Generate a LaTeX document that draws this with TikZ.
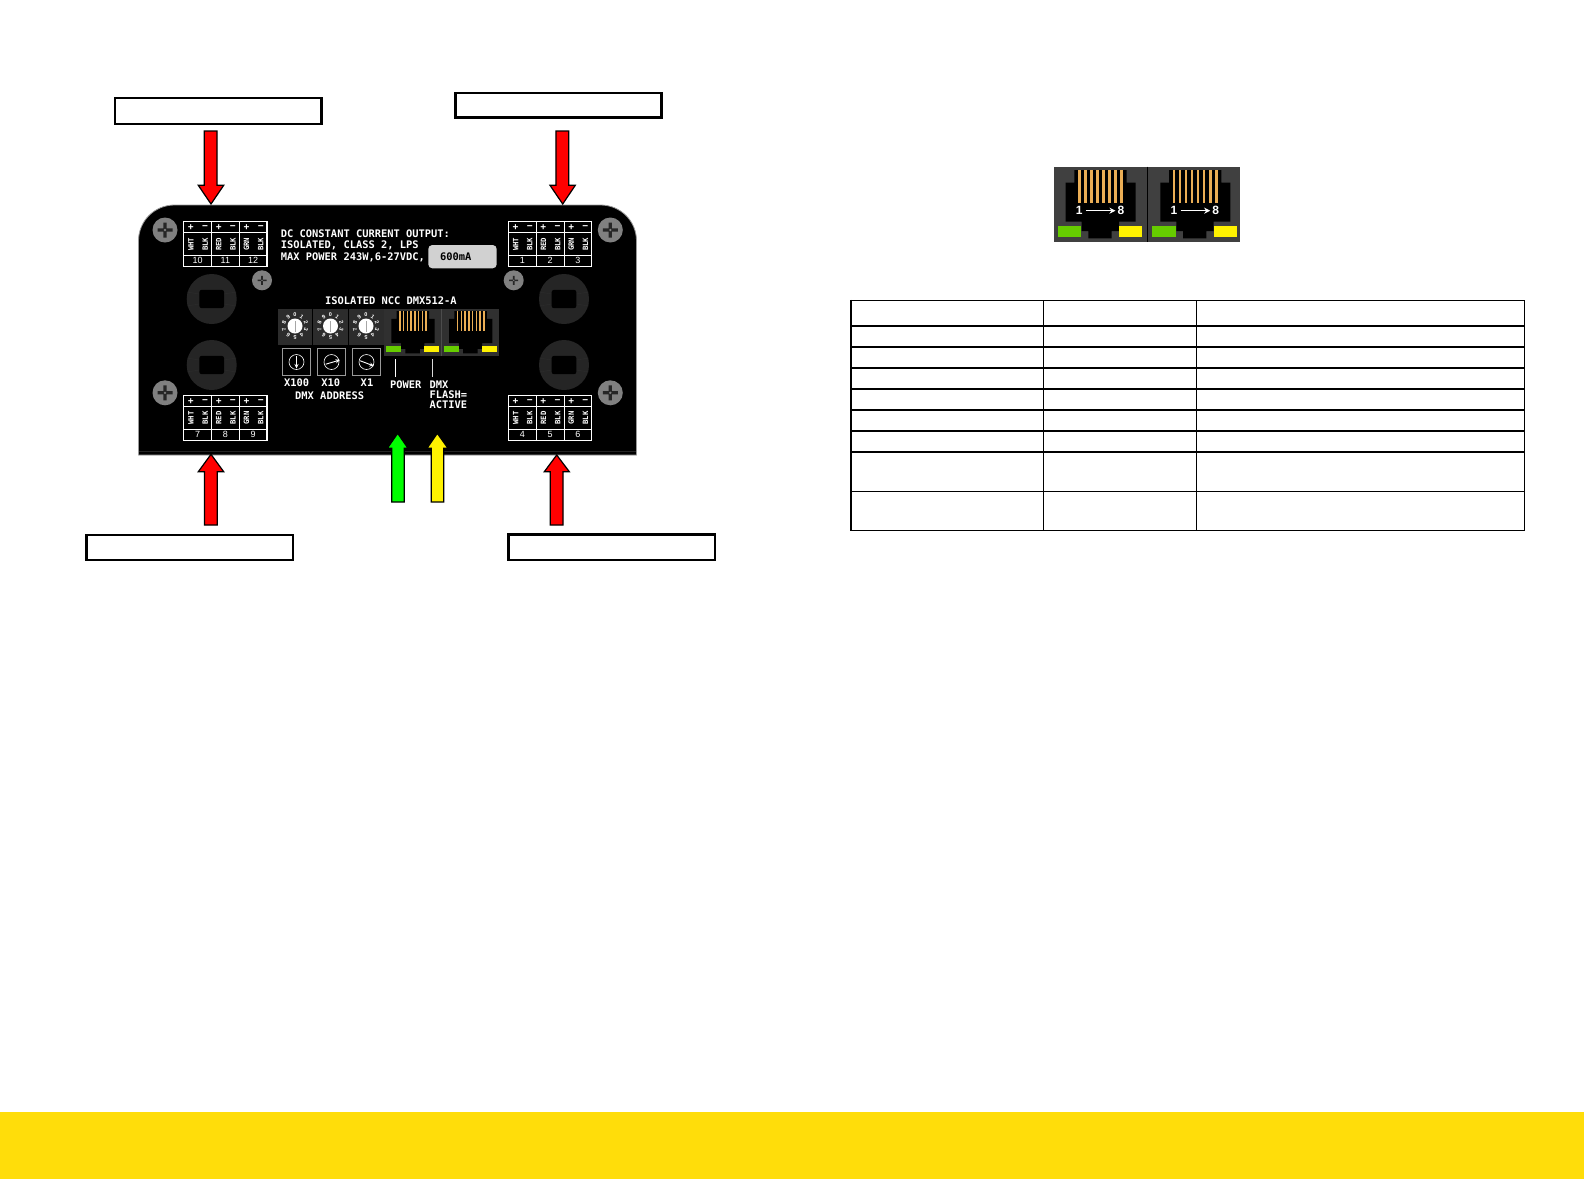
\documentclass[tikz,border=0pt]{standalone}
\usepackage{fontspec}
\setmainfont{Liberation Sans}
\newfontfamily\pmono{DejaVu Sans Mono}
\usetikzlibrary{arrows.meta,calc}
\definecolor{bandyellow}{HTML}{FFDD0A}
\definecolor{pinorange}{HTML}{EBAE55}
\definecolor{ledgreen}{HTML}{66CC00}
\definecolor{knock}{HTML}{252525}
\definecolor{cellgrey}{HTML}{404040}
\definecolor{cellsmall}{HTML}{303030}
\definecolor{dialgrey}{HTML}{2C2C2C}
\definecolor{screwgrey}{HTML}{808080}
\tikzset{
  ptext/.style={text=white,inner sep=0pt,font=\pmono\bfseries\fontsize{10.4}{12}\selectfont},
  ptextl/.style={ptext,anchor=west},
  termline/.style={draw=white,line width=1.1pt},
  termsym/.style={text=white,inner sep=0pt,font=\bfseries\fontsize{10}{10}\selectfont},
  termrot/.style={text=white,inner sep=0pt,rotate=90,font=\pmono\bfseries\fontsize{7.3}{8}\selectfont},
  termnum/.style={text=white,inner sep=0pt,font=\fontsize{9}{9}\selectfont},
  labelbox/.style={draw=black,line width=2.4pt,fill=white,inner sep=0pt},
  blockarrow/.style={draw=black,line width=1.2pt,line join=miter},
  tline/.style={draw=black,line width=1pt},
  tthick/.style={draw=black,line width=1.8pt},
  dialbox/.style={draw=gray!80,line width=.7pt},
  diald/.style={text=white,inner sep=0pt,font=\bfseries\fontsize{5.5}{6}\selectfont}
}
\newcommand{\termblk}[6]{%
  \begin{scope}[shift={(#2,#3)}]
    \draw[termline] (0,0) rectangle (83.3,44.8);
    \draw[termline] (0,11.3) -- (83.3,11.3) (0,33.8) -- (83.3,33.8);
    \draw[termline] (27.9,0) -- (27.9,44.8) (55.7,0) -- (55.7,44.8);
    \foreach \c/\lab/\num in {0/WHT/#4,1/RED/#5,2/GRN/#6}{
      \node[termsym] (#1p\c) at (7.2+27.8*\c,5.8) {+};
      \node[termsym] (#1m\c) at (21.4+27.8*\c,5.8) {\textminus};
      \node[termrot] (#1l\c) at (7.2+27.8*\c,22.7) {\lab};
      \node[termrot] (#1b\c) at (21.4+27.8*\c,22.7) {BLK};
      \node[termnum] (#1n\c) at (13.9+27.8*\c,39.3) {\num};
    }
  \end{scope}}
\newcommand{\screwbig}[2]{%
  \fill[screwgrey] (#1,#2) circle (12.5);
  \fill[black!85] (#1-7.5,#2-1.6) rectangle (#1+7.5,#2+1.6) (#1-1.6,#2-7.5) rectangle (#1+1.6,#2+7.5);
  \fill[screwgrey] (#1,#2) circle (1.3);}
\newcommand{\screwsm}[2]{%
  \fill[screwgrey] (#1,#2) circle (10);
  \fill[black!85] (#1-4.5,#2-.8) rectangle (#1+4.5,#2+.8) (#1-.8,#2-4.5) rectangle (#1+.8,#2+4.5);
  \fill[screwgrey] (#1,#2) circle (.8);}
\newcommand{\knockout}[2]{%
  \begin{scope}[shift={(#1,#2)}]
    \fill[knock] (0,0) circle (25);
    \draw[black!40!knock!90!white,line width=.4pt] (-24.6,-7) -- (-12.4,-5) (24.6,-7) -- (12.4,-5) (-24.6,7) -- (-12.4,5) (24.6,7) -- (12.4,5);
    \fill[black,rounded corners=2.5pt] (-12.4,-9.2) rectangle (12.4,9.2);
  \end{scope}}
\newcommand{\jackshape}[3]{%
  \begin{scope}[shift={(#1,#2)},scale=#3]
    \fill[black] (20,3.3) -- (72.3,3.3) -- (72.3,16) -- (81.3,16) -- (81.3,55) -- (64.7,55) -- (64.7,64.3) -- (57.3,64.3) -- (57.3,71.7) -- (34,71.7) -- (34,64.3) -- (27.3,64.3) -- (27.3,55) -- (11.3,55) -- (11.3,16) -- (20,16) -- cycle;
    \foreach \i in {0,...,7}{
      \fill[pinorange] ({25+6.05*\i-1.2},3.3) rectangle ({25+6.05*\i+1.2},36);
    }
    \fill[ledgreen] (3.3,59.3) rectangle (26.7,70);
    \fill[yellow] (64.7,59.3) rectangle (88,70);
  \end{scope}}
\newcommand{\dial}[2]{%
  \begin{scope}[shift={(#1,326)}]
    \foreach \d in {0,...,9}{
      \node[diald,rotate=-36*\d] (dg#2\d) at ({11.5*sin(36*\d)},{-11.5*cos(36*\d)}) {\d};
    }
    \fill[white] (0,0) circle (7.5);
    \draw[gray!70,line width=1pt] (0,5.5) -- (0,-5.5);
  \end{scope}}
\newcommand{\dialset}[5]{%
  \draw[dialbox] (#1,348.3) rectangle (#1+28.4,375.7);
  \draw[white,line width=.6pt] (#1+14.2,362) circle (7.5);
  \draw[white,line width=.9pt,-{Stealth[length=4.5pt,width=4pt]}] (#2,#3) -- (#4,#5);
  }
\begin{document}
\begin{tikzpicture}[x=1pt,y=-1pt]
\useasboundingbox (0,0) rectangle (1584,1179);
\fill[white] (0,0) rectangle (1584,1179);
\fill[bandyellow] (0,1112) rectangle (1584,1179);
% panel
\draw[fill=black,draw=gray!80,line width=.8pt] (138.5,455) -- (138.5,241) .. controls (138.5,221) and (154.5,205) .. (174.5,205) -- (600.5,205) .. controls (620.5,205) and (636.5,221) .. (636.5,241) -- (636.5,455) -- cycle;
\draw[knock,line width=.8pt] (139,451) -- (636,451);
\screwbig{165}{230}\screwbig{610.3}{230}\screwbig{165}{392.8}\screwbig{610.3}{392.8}
\screwsm{262}{280.3}\screwsm{513.7}{280.3}
\knockout{211.7}{299}\knockout{211.7}{365}\knockout{564}{299}\knockout{564}{365}
\termblk{tl}{183.7}{221.5}{10}{11}{12}
\termblk{tr}{508.4}{221.5}{1}{2}{3}
\termblk{bl}{183.7}{395.3}{7}{8}{9}
\termblk{br}{508.4}{395.3}{4}{5}{6}
% panel text
\node[ptextl] (t1) at (280.7,233.7) {DC CONSTANT CURRENT OUTPUT:};
\node[ptextl] (t2) at (280.7,245.5) {ISOLATED, CLASS 2, LPS};
\node[ptextl] (t3) at (280.7,257.4) {MAX POWER 243W,6-27VDC,};
\fill[black!18,rounded corners=4pt] (428.3,245) rectangle (496.7,268.3);
\node[ptextl,text=black] (t4) at (440,257) {600mA};
\node[ptextl] (t5) at (325,301) {ISOLATED NCC DMX512-A};
% dials and jacks
\fill[dialgrey] (278.3,309) rectangle (384.3,345);
\draw[black,line width=.6pt] (312.3,309) -- (312.3,345) (348.3,309) -- (348.3,345);
\dial{295}{a}\dial{330.5}{b}\dial{366}{c}
\fill[cellsmall] (384.3,309) rectangle (499,355.5);
\draw[black!70,line width=.8pt] (441.7,309) -- (441.7,355.5);
\jackshape{384.3}{309}{.62}\jackshape{442}{309}{.62}
\dialset{282.3}{296.5}{356}{296.5}{368.5}
\dialset{317.3}{325.7}{364.2}{340}{360}
\dialset{352.3}{360}{360.7}{374}{366}
\node[ptext] (x100) at (296.7,382.5) {X100};
\node[ptext] (x10) at (330.7,382.5) {X10};
\node[ptext] (x1) at (367,382.5) {X1};
\node[ptextl] (addr) at (295,395.3) {DMX ADDRESS};
\node[ptextl] (pw) at (390,385) {POWER};
\node[ptextl] (dm) at (429.3,385) {DMX};
\node[ptextl] (fl) at (429.3,395) {FLASH=};
\node[ptextl] (ac) at (429.3,405) {ACTIVE};
\draw[white,line width=.8pt] (395,359) -- (395,377);
\draw[gray!30,line width=.8pt] (432,359) -- (432,377);
% arrows
\draw[blockarrow,fill=red] (204.3,131) -- (217,131) -- (217,185.3) -- (223.7,185.3) -- (211,204) -- (198.3,185.3) -- (204.3,185.3) -- cycle;
\draw[blockarrow,fill=red] (555.9,131) -- (568.7,131) -- (568.7,185.3) -- (575.3,185.3) -- (562.7,204) -- (550,185.3) -- (555.9,185.3) -- cycle;
\draw[blockarrow,fill=red] (204.4,525) -- (217.2,525) -- (217.2,471.7) -- (223.7,471.7) -- (211,454.3) -- (198.3,471.7) -- (204.4,471.7) -- cycle;
\draw[blockarrow,fill=red] (550.3,525) -- (563,525) -- (563,471.7) -- (569.3,471.7) -- (556.7,455) -- (544.3,471.7) -- (550.3,471.7) -- cycle;
\draw[blockarrow,fill=green] (391.7,502) -- (404.3,502) -- (404.3,448.3) -- (408,448.3) -- (397.7,433.3) -- (387.3,448.3) -- (391.7,448.3) -- cycle;
\draw[blockarrow,fill=yellow] (431.3,502) -- (443.7,502) -- (443.7,448.3) -- (448,448.3) -- (437.3,433.3) -- (427,448.3) -- (431.3,448.3) -- cycle;
% label boxes
\node[labelbox,minimum width=206.6pt,minimum height=26pt] (lbtl) at (218,110.7) {};
\node[labelbox,minimum width=206pt,minimum height=24.7pt] (lbtr) at (558.3,105.3) {};
\node[labelbox,minimum width=206.3pt,minimum height=25pt] (lbbl) at (189.8,547.5) {};
\node[labelbox,minimum width=206.4pt,minimum height=25.3pt] (lbbr) at (611.5,547.3) {};
% big jack panel
\fill[cellgrey] (1054.3,166.7) rectangle (1240,241.7);
\draw[black,line width=1.2pt] (1147.3,166.7) -- (1147.3,241.7);
\jackshape{1054.3}{166.7}{1}\jackshape{1149}{166.7}{1}
\foreach \ox/\nm in {1054.3/a,1149/b}{
  \node[inner sep=0pt,text=white,font=\bfseries\fontsize{12}{12}\selectfont] (one\nm) at (\ox+25,210.7) {1};
  \node[inner sep=0pt,text=white,font=\bfseries\fontsize{12}{12}\selectfont] (eight\nm) at (\ox+66.7,210.7) {8};
  \draw[white,line width=1.3pt,-{Stealth[length=6pt,width=6pt]}] ($(one\nm.east)+(3,0)$) -- ($(eight\nm.west)+(-2,0)$);
}
% table
\draw[tline] (1043.3,300.3) -- (1043.3,530.3) (1196.3,300.3) -- (1196.3,530.3) (1524.3,300.3) -- (1524.3,530.3);
\draw[tline] (850,300.3) -- (1524.8,300.3) (850,491.3) -- (1524.8,491.3) (850,530.3) -- (1524.8,530.3);
\foreach \yy in {325.7,346.7,367.7,388.7,409.7,430.7,451.7}{
  \draw[tthick] (850,\yy) -- (1524.8,\yy);
}
\draw[tthick] (850.7,299.8) -- (850.7,530.8);
\end{tikzpicture}
\end{document}
